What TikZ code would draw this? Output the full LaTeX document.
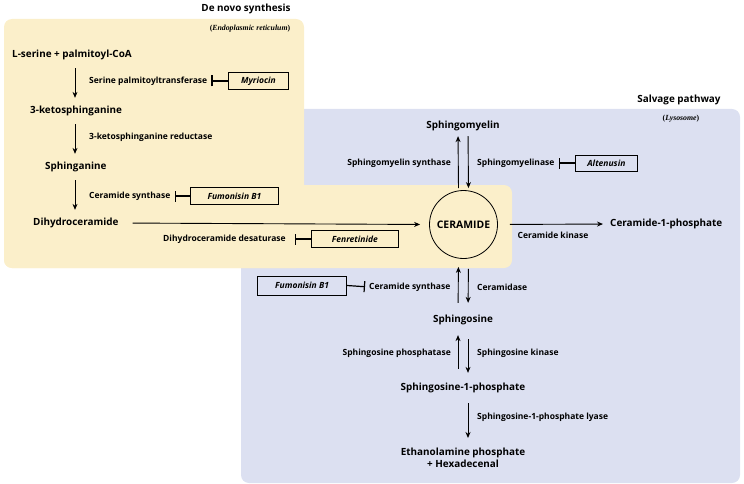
\documentclass[tikz,border=0pt]{standalone}
\usepackage{fontspec}
\setmainfont{Open Sans}
\newfontfamily\lblserif{Liberation Serif}
\usetikzlibrary{positioning,arrows.meta}
\definecolor{denovo}{RGB}{251,239,202}
\definecolor{salvage}{RGB}{220,224,241}
\tikzset{
  metab/.style={font=\bfseries\fontsize{9.9}{12}\selectfont, inner sep=0pt},
  enzyme/.style={font=\bfseries\fontsize{8.5}{10}\selectfont, inner sep=0pt},
  drug/.style={draw, line width=0.8pt, minimum height=17pt, inner sep=0pt,
    font=\bfseries\itshape\fontsize{8.5}{10}\selectfont},
  arr/.style={-{Stealth[length=6pt,width=5pt]}, line width=0.9pt},
  inhib/.style={-{Bar[width=11pt,line width=1.2pt]}, line width=1.2pt},
  region/.style={rounded corners=8pt}
}

\begin{document}
\begin{tikzpicture}[x=1pt,y=-1pt]
  \useasboundingbox (0,0) rectangle (744,484);

  % compartments
  \fill[salvage, region] (241,109) rectangle (740,483);
  \fill[denovo, region] (4,19) rectangle (304,268);
  \fill[denovo, region] (4,185) rectangle (512,268);

  \node (dntitle) [font=\bfseries\fontsize{9.9}{12}\selectfont] at (246,9) {De novo synthesis};
  \node (er) [font=\lblserif\bfseries\fontsize{7.8}{9}\selectfont] at (250,29) {(\textit{Endoplasmic reticulum})};
  \node (svtitle) [font=\bfseries\fontsize{9.9}{12}\selectfont] at (679,100) {Salvage pathway};
  \node (lyso) [font=\lblserif\bfseries\fontsize{7.8}{9}\selectfont] at (681,119) {(\textit{Lysosome})};

  % de novo synthesis
  \coordinate (lx) at (75,0);
  \node (serine) [metab, anchor=west] at (12,55) {L-serine + palmitoyl-CoA};
  \node (keto) [metab, anchor=west] at (30,111) {3-ketosphinganine};
  \node (sphinganine) [metab, anchor=west] at (45,167) {Sphinganine};
  \node (dihydro) [metab, anchor=west] at (33,223) {Dihydroceramide};

  \node (spt) [enzyme, anchor=west] at (89,81) {Serine palmitoyltransferase};
  \node (ksr) [enzyme, anchor=west] at (89,137) {3-ketosphinganine reductase};
  \node (cs1) [enzyme, anchor=west] at (89,196) {Ceramide synthase};
  \node (dhcd) [enzyme, anchor=west] at (163,239) {Dihydroceramide desaturase};

  \node (myr) [drug, minimum width=60pt, anchor=west] at (228,81) {Myriocin};
  \node (fum1) [drug, minimum width=88pt, anchor=west] at (190,196) {Fumonisin B1};
  \node (fen) [drug, minimum width=87pt, anchor=west] at (311,239) {Fenretinide};

  \draw[arr, shorten <=8pt, shorten >=8pt] (serine.south -| lx) -- (keto.north -| lx);
  \draw[arr, shorten <=8pt, shorten >=8pt] (keto.south -| lx) -- (sphinganine.north -| lx);
  \draw[arr, shorten <=8pt, shorten >=8pt] (sphinganine.south -| lx) -- (dihydro.north -| lx);

  \draw[inhib, shorten >=4pt] (myr.west) -- (spt.east);
  \draw[inhib, shorten >=4pt] (fum1.west) -- (cs1.east);
  \draw[inhib, shorten >=9pt] (fen.west) -- (dhcd.east);

  % ceramide hub
  \node (cer) [circle, draw, line width=0.8pt, minimum size=68pt, inner sep=0pt,
    font=\bfseries\fontsize{10.4}{12}\selectfont] at (463.5,224.5) {CERAMIDE};
  \draw[arr, shorten <=14pt, shorten >=9pt] (dihydro.east) -- (cer.west);

  % salvage pathway
  \node (sm) [metab] at (463,126) {Sphingomyelin};
  \node (c1p) [metab, anchor=west] at (610,224) {Ceramide-1-phosphate};
  \node (sph) [metab] at (463,320) {Sphingosine};
  \node (s1p) [metab] at (463,388) {Sphingosine-1-phosphate};
  \node (eth) [metab, align=center] at (463,458) {Ethanolamine phosphate\\+ Hexadecenal};

  \node (sms) [enzyme, anchor=east] at (451,163) {Sphingomyelin synthase};
  \node (smase) [enzyme, anchor=west] at (477,163) {Sphingomyelinase};
  \node (ck) [enzyme] at (553,235) {Ceramide kinase};
  \node (cs2) [enzyme, anchor=west] at (369,287) {Ceramide synthase};
  \node (cdase) [enzyme, anchor=west] at (477,287) {Ceramidase};
  \node (sphp) [enzyme, anchor=east] at (451,353) {Sphingosine phosphatase};
  \node (sphk) [enzyme, anchor=west] at (477,353) {Sphingosine kinase};
  \node (lyase) [enzyme, anchor=west] at (477,417) {Sphingosine-1-phosphate lyase};

  \node (alt) [drug, minimum width=62pt, minimum height=16pt, anchor=west] at (575,163) {Altenusin};
  \node (fum2) [drug, minimum width=89pt, minimum height=19pt, anchor=east] at (347,285.5) {Fumonisin B1};

  \draw[inhib, shorten >=4pt] (alt.west) -- (smase.east);
  \draw[inhib, shorten >=4pt] (fum2.east) -- (cs2.west);

  \draw[arr, shorten <=2pt, shorten >=5pt] ([xshift=-5pt]cer.north) -- ([xshift=-5pt]sm.south);
  \draw[arr, shorten <=5pt, shorten >=2pt] ([xshift=5pt]sm.south) -- ([xshift=5pt]cer.north);
  \draw[arr, shorten <=12pt, shorten >=7pt] (cer.east) -- (c1p.west);
  \draw[arr, shorten <=12pt, shorten >=8pt] ([xshift=-5pt]sph.north) -- ([xshift=-5pt]cer.south);
  \draw[arr, shorten <=10pt, shorten >=12pt] ([xshift=5pt]cer.south) -- ([xshift=5pt]sph.north);
  \draw[arr, shorten <=14pt, shorten >=10pt] ([xshift=-5pt]s1p.north) -- ([xshift=-5pt]sph.south);
  \draw[arr, shorten <=14pt, shorten >=10pt] ([xshift=5pt]sph.south) -- ([xshift=5pt]s1p.north);
  \draw[arr, shorten <=10pt, shorten >=10pt] ([xshift=5pt]s1p.south) -- ([xshift=5pt]eth.north);
\end{tikzpicture}
\end{document}
